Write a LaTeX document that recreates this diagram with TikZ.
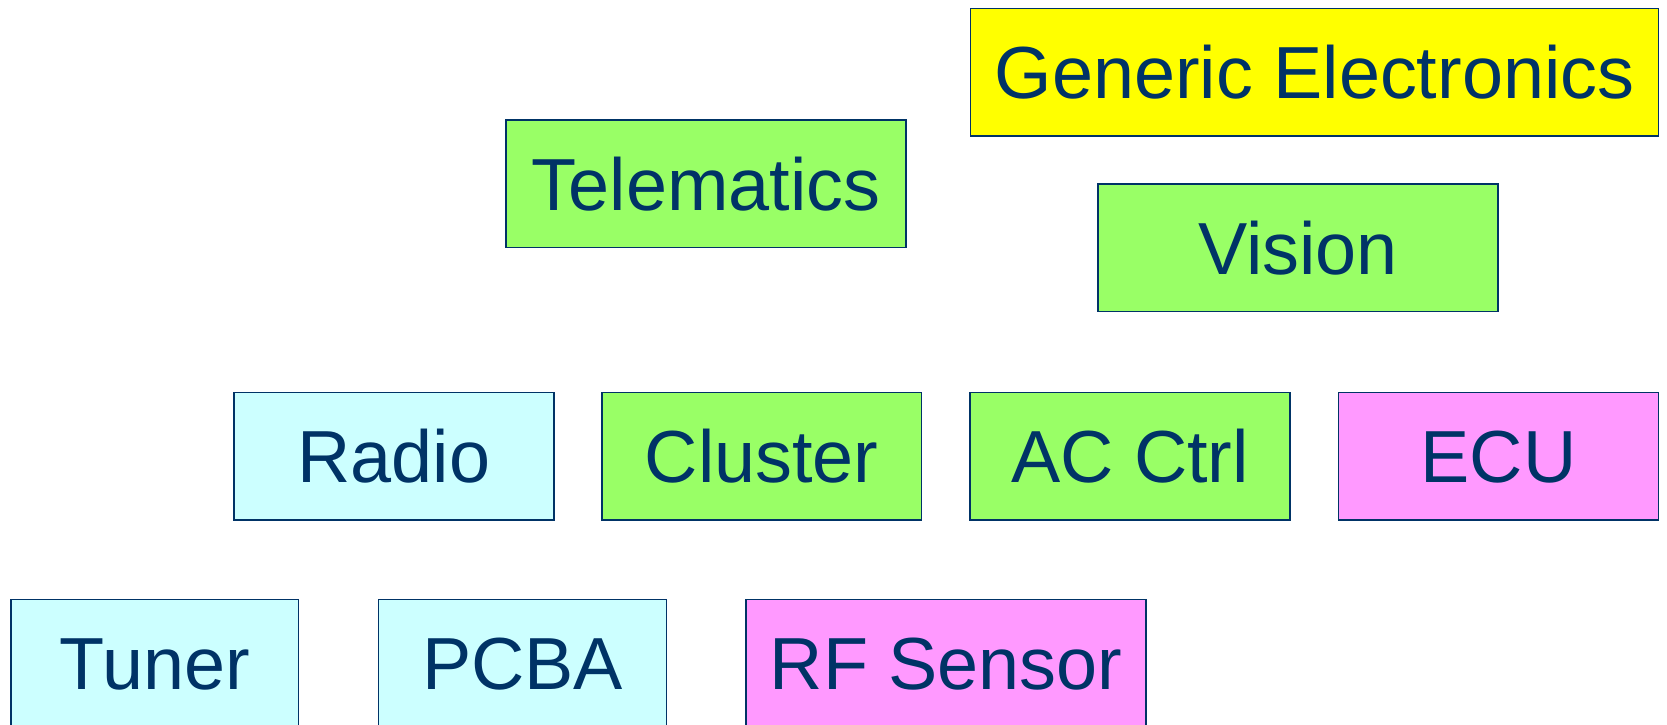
\documentclass[tikz,border=0pt]{standalone}
\usepackage{fontspec}
\setmainfont{Liberation Sans}
\usepackage{tikz}

\definecolor{navy}{HTML}{003366}
\definecolor{genyellow}{HTML}{FFFF00}
\definecolor{grpgreen}{HTML}{99FF66}
\definecolor{radcyan}{HTML}{CCFFFF}
\definecolor{sensepink}{HTML}{FF99FF}

\tikzset{
  blockbox/.style={draw=navy, line width=0.9pt, text=navy, inner sep=0pt,
    minimum height=2.55cm, text height=1.06cm, text depth=0pt,
    font=\fontsize{42}{48}\selectfont},
  wide/.style={blockbox, minimum width=8cm},
  mid/.style={blockbox, minimum width=6.4cm},
  narrow/.style={blockbox, minimum width=5.76cm}
}

\begin{document}
\begin{tikzpicture}[x=0.02cm, y=-0.02cm]
    \useasboundingbox (0,0) rectangle (1667,724);
    \clip (0,0) rectangle (1667,724);
    % top level
    \node[blockbox, minimum width=13.76cm, fill=genyellow] (generic) at (1314.5,72.3) {Generic Electronics};
    % groups
    \node[wide, fill=grpgreen] (telematics) at (705.9,183.9) {Telematics};
    \node[wide, fill=grpgreen] (vision) at (1298.1,247.8) {Vision};
    % products
    \node[mid, fill=radcyan] (radio) at (393.9,456.1) {Radio};
    \node[mid, fill=grpgreen] (cluster) at (761.7,456.1) {Cluster};
    \node[mid, fill=grpgreen] (acctrl) at (1130.1,456.1) {AC Ctrl};
    \node[mid, fill=sensepink] (ecu) at (1498.5,456.1) {ECU};
    % parts
    \node[narrow, fill=radcyan] (tuner) at (154.7,663.4) {Tuner};
    \node[narrow, fill=radcyan] (pcba) at (522.6,663.4) {PCBA};
    \node[wide, fill=sensepink] (rfsensor) at (946.2,663.4) {RF Sensor};
\end{tikzpicture}
\end{document}
